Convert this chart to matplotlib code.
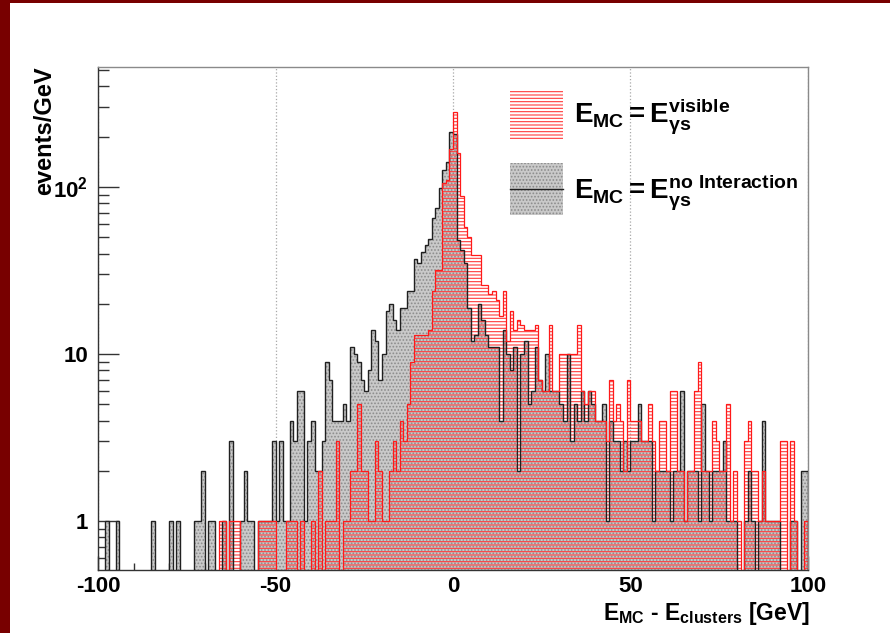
import matplotlib.pyplot as plt
import numpy as np
from matplotlib.patches import Rectangle
from matplotlib.lines import Line2D
from matplotlib.ticker import LogLocator, NullFormatter

# フォント設定 (ROOT風の太字ヘルベチカ)
plt.rcParams['font.family'] = ['Liberation Sans', 'DejaVu Sans']
plt.rcParams['font.weight'] = 'bold'
plt.rcParams['mathtext.fontset'] = 'custom'
plt.rcParams['mathtext.rm'] = 'Liberation Sans:bold'
plt.rcParams['mathtext.it'] = 'Liberation Sans:bold'
plt.rcParams['mathtext.bf'] = 'Liberation Sans:bold'
plt.rcParams['hatch.linewidth'] = 0.8

# データ: 1 GeV bins from -100 to 100 (events/GeV)
bin_lo, bin_hi = -100, 100

# E_MC = E_gs^{no Interaction}
no_interaction = [
    0, 0, 1, 0, 0, 1, 0, 0, 0, 0,            # -100 .. -91
    0, 0, 0, 0, 0, 1, 0, 0, 0, 0,            # -90 .. -81
    1, 0, 1, 0, 0, 0, 0, 1, 1, 2,            # -80 .. -71
    0, 1, 1, 0, 0, 1, 0, 3, 0, 0,            # -70 .. -61
    1, 2, 1, 1, 0, 1, 1, 1, 1, 3,            # -60 .. -51
    1, 3, 1, 1, 4, 3, 6, 6, 1, 3,            # -50 .. -41
    4, 2, 2, 3, 9, 7, 4, 4, 4, 5,            # -40 .. -31
    4, 11, 10, 9, 7, 6, 8, 14, 12, 7,        # -30 .. -21
    10, 18, 20, 16, 14, 19, 19, 24, 24, 37,  # -20 .. -11
    35, 41, 45, 49, 65, 75, 98, 126, 142, 214,  # -10 .. -1
    208, 48, 42, 35, 19, 12, 13, 20, 16, 13,  # 0 .. 9
    11, 11, 11, 4, 14, 10, 8, 11, 2, 10,     # 10 .. 19
    12, 5, 6, 11, 7, 6, 10, 6, 6, 6,         # 20 .. 29
    5, 4, 10, 3, 5, 4, 6, 4, 6, 5,           # 30 .. 39
    4, 4, 5, 1, 4, 3, 3, 2, 3, 2,            # 40 .. 49
    3, 3, 5, 3, 3, 3, 1, 2, 2, 2,            # 50 .. 59
    2, 1, 2, 2, 6, 1, 2, 2, 2, 1,            # 60 .. 69
    5, 2, 1, 2, 2, 2, 3, 1, 1, 1,            # 70 .. 79
    0, 0, 1, 2, 1, 0, 1, 4, 1, 1,            # 80 .. 89
    1, 1, 0, 0, 0, 1, 1, 0, 2, 2,            # 90 .. 99
]

# E_MC = E_gs^{visible}
visible = [
    0, 0, 0, 0, 0, 0, 0, 0, 0, 0,            # -100 .. -91
    0, 0, 0, 0, 0, 0, 0, 0, 0, 0,            # -90 .. -81
    0, 0, 0, 0, 0, 0, 0, 0, 0, 0,            # -80 .. -71
    0, 0, 0, 0, 1, 1, 0, 1, 1, 1,            # -70 .. -61
    0, 0, 0, 0, 0, 1, 1, 1, 1, 1,            # -60 .. -51
    0, 0, 0, 1, 1, 1, 0, 1, 0, 0,            # -50 .. -41
    1, 0, 2, 0, 1, 1, 1, 3, 0, 1,            # -40 .. -31
    1, 2, 2, 5, 2, 2, 1, 1, 3, 2,            # -30 .. -21
    1, 1, 2, 3, 2, 4, 3, 5, 9, 13,           # -20 .. -11
    13, 13, 13, 14, 24, 32, 32, 105, 110, 170,  # -10 .. -1
    282, 159, 88, 58, 50, 39, 39, 39, 26, 26,  # 0 .. 9
    23, 24, 21, 17, 24, 12, 18, 14, 16, 15,  # 10 .. 19
    14, 14, 14, 15, 7, 6, 6, 15, 6, 6,       # 20 .. 29
    10, 10, 10, 10, 10, 15, 6, 5, 6, 6,      # 30 .. 39
    4, 4, 4, 3, 7, 4, 5, 4, 2, 7,            # 40 .. 49
    4, 4, 4, 3, 3, 5, 3, 2, 4, 4,            # 50 .. 59
    2, 6, 6, 2, 2, 1, 2, 2, 6, 9,            # 60 .. 69
    2, 2, 2, 4, 3, 2, 2, 5, 1, 2,            # 70 .. 79
    1, 0, 3, 4, 2, 2, 1, 2, 1, 1,            # 80 .. 89
    1, 1, 3, 3, 0, 3, 1, 0, 0, 1,            # 90 .. 99
]

x_ticks = [-100, -50, 0, 50, 100]
x_ticklabels = ['-100', '-50', '0', '50', '100']
y_ticks = [1, 10, 100]
y_ticklabels = ['1', '10', r'$\mathbf{10^{2}}$']

# プロット作成
W, H = 890, 633
edges = np.arange(bin_lo, bin_hi + 1)
floor = 1e-3  # 空のビンは軸の下まで落とす
grey = np.maximum(np.array(no_interaction, float), floor)
red = np.maximum(np.array(visible, float), floor)

fig = plt.figure(figsize=(W / 100, H / 100), dpi=100)
fig.patch.set_facecolor('white')
ax = fig.add_axes([98 / W, 1 - 570 / H, 710 / W, 503 / H])

ax.set_xlim(-100, 100)
ax.set_yscale('log')
ax.set_ylim(0.51, 523)

# グリッド (x方向のみ、点線)
ax.set_xticks(x_ticks)
ax.set_xticklabels(x_ticklabels)
ax.grid(axis='x', which='major', linestyle=':', color='#a8a8a8', linewidth=0.9)
ax.set_axisbelow(True)

# ヒストグラム
ax.stairs(grey, edges, baseline=floor, fill=True, facecolor='#c9c9c9',
          edgecolor='#8c8c8c', hatch='.....', linewidth=0, zorder=1)
ax.stairs(red, edges, baseline=floor, fill=True, facecolor='none',
          edgecolor='#ff3b3b', hatch='-----', linewidth=0, zorder=2)
ax.stairs(grey, edges, baseline=floor, color='#202020', linewidth=1.0, zorder=3)
ax.stairs(red, edges, baseline=floor, color='#ff1a1a', linewidth=0.9, zorder=4)

# 目盛り
ax.set_xticks(np.arange(-90, 100, 10), minor=True)
ax.set_yticks(y_ticks)
ax.set_yticklabels(y_ticklabels)
ax.yaxis.set_minor_locator(LogLocator(base=10, subs=range(2, 10)))
ax.yaxis.set_minor_formatter(NullFormatter())
ax.tick_params(axis='both', which='both', direction='in', colors='#333333',
               labelcolor='black', labelsize=16, top=False, right=False)
ax.tick_params(axis='x', which='major', length=10, width=1, pad=4)
ax.tick_params(axis='x', which='minor', length=5, width=1)
ax.tick_params(axis='y', which='major', length=15, width=1, pad=7)
ax.tick_params(axis='y', which='minor', length=8, width=1)
for lab in ax.get_xticklabels() + ax.get_yticklabels():
    lab.set_fontweight('bold')

for side in ['left', 'bottom']:
    ax.spines[side].set_color('#333333')
    ax.spines[side].set_linewidth(1.0)
for side in ['top', 'right']:
    ax.spines[side].set_color('#8a8a8a')
    ax.spines[side].set_linewidth(1.0)

# 軸タイトル
fig.text(810 / W, 1 - 620 / H, r'$\mathbf{E_{MC}}$ - $\mathbf{E_{clusters}}$ [GeV]',
         ha='right', va='baseline', fontsize=16.5, fontweight='bold')
fig.text(45 / W, 1 - 66 / H, 'events/GeV', rotation=90, ha='center', va='top',
         fontsize=17, fontweight='bold')

# 凡例 (手書き)
fig.add_artist(Rectangle((510 / W, 1 - 140 / H), 53 / W, 50 / H, transform=fig.transFigure,
                         facecolor='none', edgecolor='#ff3b3b', hatch='-----', linewidth=0))
fig.add_artist(Rectangle((510 / W, 1 - 215 / H), 53 / W, 52 / H, transform=fig.transFigure,
                         facecolor='#c9c9c9', edgecolor='#8c8c8c', hatch='.....', linewidth=0))
fig.add_artist(Line2D([510 / W, 563 / W], [1 - 189 / H] * 2, transform=fig.transFigure,
                      color='#202020', linewidth=1.0))
fig.text(574 / W, 1 - 123 / H, r'$\mathbf{E_{MC} = E_{\gamma s}^{visible}}$',
         ha='left', va='baseline', fontsize=20)
fig.text(574 / W, 1 - 198 / H, r'$\mathbf{E_{MC} = E_{\gamma s}^{no\ Interaction}}$',
         ha='left', va='baseline', fontsize=20)

# 外枠 (暗赤色)
fig.add_artist(Rectangle((0, 0), 10 / W, 1, transform=fig.transFigure,
                         facecolor='#780000', edgecolor='none'))
fig.add_artist(Rectangle((0, 1 - 3 / H), 1, 3 / H, transform=fig.transFigure,
                         facecolor='#780000', edgecolor='none'))

fig.savefig('out.png', dpi=100)
